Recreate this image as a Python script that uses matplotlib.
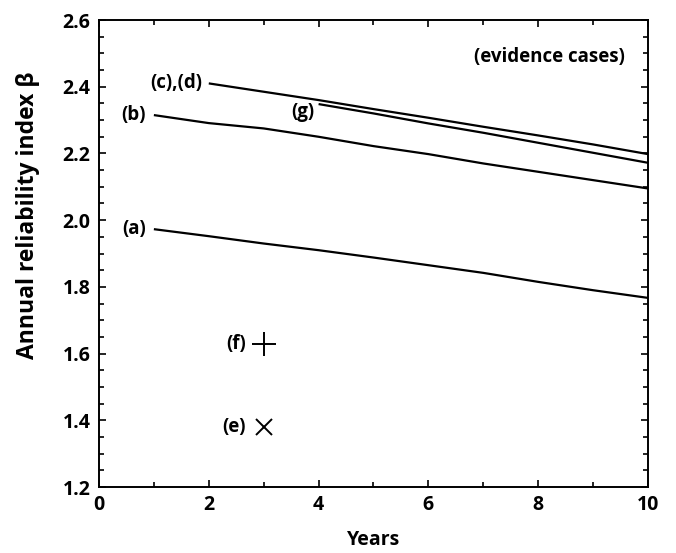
import matplotlib
matplotlib.use("Agg")
import matplotlib.pyplot as plt
from matplotlib.ticker import MultipleLocator

plt.rcParams["font.family"] = ["Open Sans", "DejaVu Sans"]
plt.rcParams["font.weight"] = "bold"

# curve data (years vs beta)
years_a = [1, 2, 3, 4, 5, 6, 7, 8, 9, 10]
beta_a = [1.973, 1.952, 1.930, 1.910, 1.888, 1.865, 1.842, 1.815, 1.790, 1.767]

years_b = [1, 2, 3, 4, 5, 6, 7, 8, 9, 10]
beta_b = [2.315, 2.291, 2.275, 2.250, 2.222, 2.198, 2.170, 2.145, 2.120, 2.095]

years_cd = [2, 3, 4, 5, 6, 7, 8, 9, 10]
beta_cd = [2.410, 2.385, 2.360, 2.333, 2.307, 2.280, 2.254, 2.227, 2.198]

years_g = [4, 5, 6, 7, 8, 9, 10]
beta_g = [2.348, 2.320, 2.290, 2.262, 2.232, 2.202, 2.172]

point_e = (3, 1.380)
point_f = (3, 1.630)

fig = plt.figure(figsize=(6.76, 5.53), dpi=100)
fig.patch.set_facecolor("white")
ax = fig.add_axes([0.1464, 0.1193, 0.8122, 0.8445])

lw = 1.6
for xs, ys in [(years_a, beta_a), (years_b, beta_b), (years_cd, beta_cd), (years_g, beta_g)]:
    ax.plot(xs, ys, color="black", linewidth=lw, solid_capstyle="butt", clip_on=False)

ax.plot(*point_f, marker="+", markersize=17, mew=1.4, color="black", linestyle="none")
ax.plot(*point_e, marker="x", markersize=11, mew=1.4, color="black", linestyle="none")

fs = 13.5
ax.text(1.88, 2.41, "(c),(d)", ha="right", va="center", fontsize=fs, fontweight="bold")
ax.text(0.86, 2.315, "(b)", ha="right", va="center", fontsize=fs, fontweight="bold")
ax.text(0.86, 1.973, "(a)", ha="right", va="center", fontsize=fs, fontweight="bold")
ax.text(3.93, 2.325, "(g)", ha="right", va="center", fontsize=fs, fontweight="bold")
ax.text(2.68, 1.63, "(f)", ha="right", va="center", fontsize=fs, fontweight="bold")
ax.text(2.68, 1.38, "(e)", ha="right", va="center", fontsize=fs, fontweight="bold")
ax.text(9.58, 2.49, "(evidence cases)", ha="right", va="center", fontsize=fs, fontweight="bold")

ax.set_xlim(0, 10)
ax.set_ylim(1.2, 2.6)
ax.xaxis.set_major_locator(MultipleLocator(2))
ax.xaxis.set_minor_locator(MultipleLocator(1))
ax.yaxis.set_major_locator(MultipleLocator(0.2))
ax.yaxis.set_minor_locator(MultipleLocator(0.05))
ax.set_yticklabels([f"{v:.1f}" for v in ax.get_yticks()])

ax.tick_params(which="both", direction="in", top=True, right=True, width=1.2,
               labelsize=14, pad=6)
ax.tick_params(which="major", length=5)
ax.tick_params(which="minor", length=3.5)
for lab in ax.get_xticklabels() + ax.get_yticklabels():
    lab.set_fontweight("bold")
for sp in ax.spines.values():
    sp.set_linewidth(1.4)

ax.set_xlabel("Years", fontsize=14, fontweight="bold", va="center")
ax.set_ylabel("Annual reliability index \u03b2", fontsize=16.5, fontweight="bold", va="center")
ax.xaxis.set_label_coords(0.50, -0.114)
ax.yaxis.set_label_coords(-0.129, 0.582)

fig.savefig("out.png", dpi=100, facecolor="white")
